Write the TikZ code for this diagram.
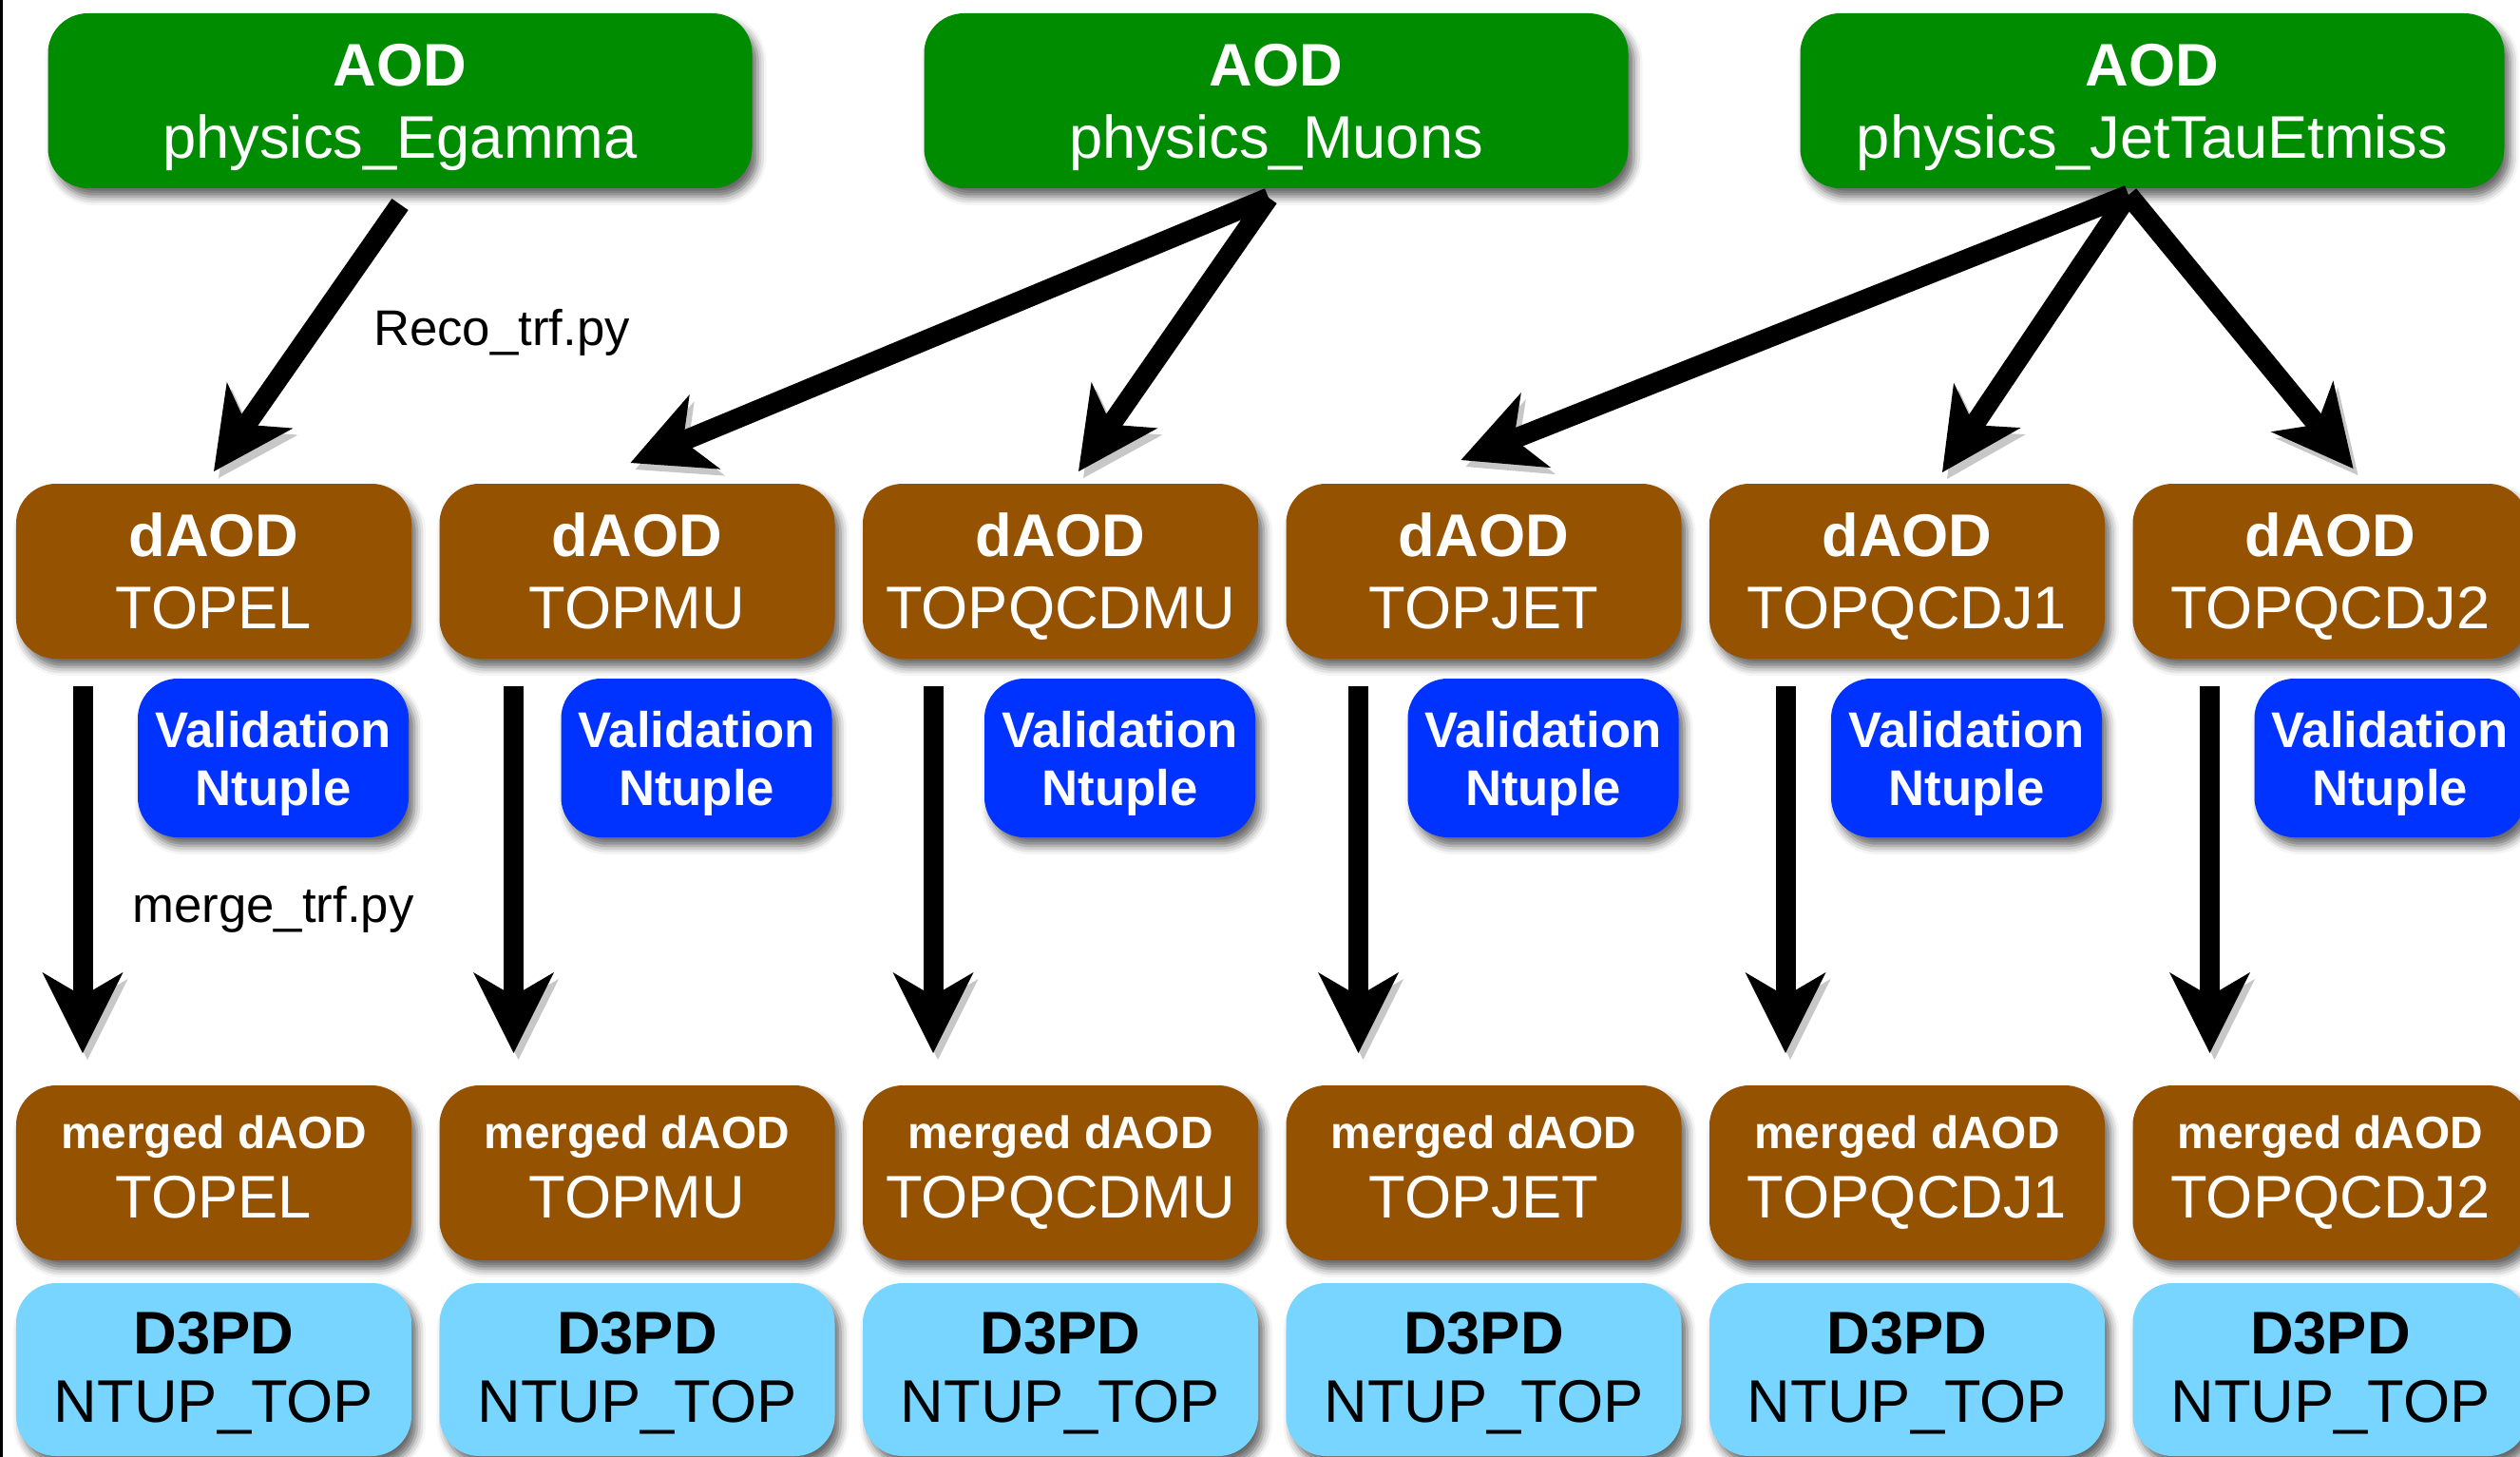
\documentclass[tikz,border=0pt]{standalone}
\usepackage{fontspec}
\setmainfont{Liberation Sans}
\usetikzlibrary{arrows.meta, positioning, shadows.blur}

\definecolor{aodgreen}{RGB}{0,140,0}
\definecolor{daodbrown}{RGB}{149,82,0}
\definecolor{valblue}{RGB}{0,51,255}
\definecolor{ntupblue}{RGB}{119,213,255}

\begin{document}
\begin{tikzpicture}[
node distance = 2.9mm and 2.95mm,
   boks/.style = {rectangle, rounded corners=4.2mm, align=center, inner sep=1mm, outer sep=0pt,
                  minimum height=18.4mm, text depth=0pt, font=\fontsize{18}{21.6}\selectfont,
                  blur shadow={shadow xshift=0.6mm, shadow yshift=-0.9mm,
                               shadow blur radius=0.9mm, shadow opacity=60}},
    aod/.style = {boks, fill=aodgreen, text=white, minimum width=74.1mm},
   daod/.style = {boks, fill=daodbrown, text=white, minimum width=41.6mm},
  mdaod/.style = {daod, text depth=3.6pt},
    val/.style = {boks, fill=valblue, text=white, minimum width=28.5mm,
                  minimum height=16.7mm, font=\fontsize{15}{17.3}\selectfont\bfseries},
   ntup/.style = {boks, fill=ntupblue, text=black, minimum width=41.6mm, minimum height=18.2mm,
                  text depth=1.5pt},
   trf/.style = {font=\fontsize{15}{18}\selectfont},
    pil/.style = {black, line width=2.1mm,
                  -{Stealth[length=8.5mm, width=8.5mm, inset=2.5mm, line width=0pt]},
                  preaction={draw=black!22, transform canvas={shift={(0.5mm,-0.7mm)}}}}
                    ]
\useasboundingbox (0,0) rectangle (26.52,-15.33);
\fill (0,0) rectangle (0.03,-15.33);

%nodes
\node[aod] (aodE) at (4.21,-1.06) {{\bfseries AOD}\\physics\_Egamma};
\node[aod] (aodM) [right=18.1mm of aodE] {{\bfseries AOD}\\physics\_Muons};
\node[aod] (aodJ) [right=18.1mm of aodM] {{\bfseries AOD}\\physics\_JetTauEtmiss};

\node[daod] (dEl) at (2.25,-6.01) {{\bfseries dAOD}\\TOPEL};
\node[daod] (dMu) [right=of dEl] {{\bfseries dAOD}\\TOPMU};
\node[daod] (dQm) [right=of dMu] {{\bfseries dAOD}\\TOPQCDMU};
\node[daod] (dJet) [right=of dQm] {{\bfseries dAOD}\\TOPJET};
\node[daod] (dJ1) [right=of dJet] {{\bfseries dAOD}\\TOPQCDJ1};
\node[daod] (dJ2) [right=of dJ1] {{\bfseries dAOD}\\TOPQCDJ2};

\node[val] (vEl) [below=2.1mm of dEl.south east, anchor=north east, xshift=-0.3mm] {Validation\\Ntuple};
\node[val] (vMu) [below=2.1mm of dMu.south east, anchor=north east, xshift=-0.3mm] {Validation\\Ntuple};
\node[val] (vQm) [below=2.1mm of dQm.south east, anchor=north east, xshift=-0.3mm] {Validation\\Ntuple};
\node[val] (vJet) [below=2.1mm of dJet.south east, anchor=north east, xshift=-0.3mm] {Validation\\Ntuple};
\node[val] (vJ1) [below=2.1mm of dJ1.south east, anchor=north east, xshift=-0.3mm] {Validation\\Ntuple};
\node[val] (vJ2) [below=2.1mm of dJ2.south east, anchor=north east, xshift=-0.3mm] {Validation\\Ntuple};

\node[mdaod] (mEl) [below=44.9mm of dEl] {{\fontsize{13.6}{16}\selectfont\bfseries merged dAOD}\\[-1pt]TOPEL};
\node[mdaod] (mMu) [below=44.9mm of dMu] {{\fontsize{13.6}{16}\selectfont\bfseries merged dAOD}\\[-1pt]TOPMU};
\node[mdaod] (mQm) [below=44.9mm of dQm] {{\fontsize{13.6}{16}\selectfont\bfseries merged dAOD}\\[-1pt]TOPQCDMU};
\node[mdaod] (mJet) [below=44.9mm of dJet] {{\fontsize{13.6}{16}\selectfont\bfseries merged dAOD}\\[-1pt]TOPJET};
\node[mdaod] (mJ1) [below=44.9mm of dJ1] {{\fontsize{13.6}{16}\selectfont\bfseries merged dAOD}\\[-1pt]TOPQCDJ1};
\node[mdaod] (mJ2) [below=44.9mm of dJ2] {{\fontsize{13.6}{16}\selectfont\bfseries merged dAOD}\\[-1pt]TOPQCDJ2};

\node[ntup] (nEl) [below=2.4mm of mEl] {{\bfseries D3PD}\\[-1pt]NTUP\_TOP};
\node[ntup] (nMu) [below=2.4mm of mMu] {{\bfseries D3PD}\\[-1pt]NTUP\_TOP};
\node[ntup] (nQm) [below=2.4mm of mQm] {{\bfseries D3PD}\\[-1pt]NTUP\_TOP};
\node[ntup] (nJet) [below=2.4mm of mJet] {{\bfseries D3PD}\\[-1pt]NTUP\_TOP};
\node[ntup] (nJ1) [below=2.4mm of mJ1] {{\bfseries D3PD}\\[-1pt]NTUP\_TOP};
\node[ntup] (nJ2) [below=2.4mm of mJ2] {{\bfseries D3PD}\\[-1pt]NTUP\_TOP};

\node[trf] (reco) at (5.28,-3.50) {Reco\_trf.py};
\node[trf] (merge) at (2.875,-9.57) {merge\_trf.py};

% edges
\draw[pil] ([yshift=-1.7mm]aodE.south) -- ([yshift=1.3mm]dEl.north);
\draw[pil] ([xshift=-0.8mm,yshift=-1mm]aodM.south) -- ([xshift=-0.7mm,yshift=2.2mm]dMu.north);
\draw[pil] ([xshift=-0.8mm,yshift=-1mm]aodM.south) -- ([xshift=1.9mm,yshift=1.3mm]dQm.north);
\draw[pil] ([xshift=-2.5mm,yshift=-0.7mm]aodJ.south) -- ([xshift=-2.4mm,yshift=2.5mm]dJet.north);
\draw[pil] ([xshift=-2.5mm,yshift=-0.7mm]aodJ.south) -- ([xshift=3.7mm,yshift=1.2mm]dJ1.north);
\draw[pil] ([xshift=-2.5mm,yshift=-0.7mm]aodJ.south) -- ([xshift=2.4mm,yshift=1.6mm]dJ2.north);

\draw[pil] ([xshift=-13.8mm,yshift=-2.9mm]dEl.south) -- ([xshift=-13.8mm,yshift=3.4mm]mEl.north);
\draw[pil] ([xshift=-13.0mm,yshift=-2.9mm]dMu.south) -- ([xshift=-13.0mm,yshift=3.4mm]mMu.north);
\draw[pil] ([xshift=-13.4mm,yshift=-2.9mm]dQm.south) -- ([xshift=-13.4mm,yshift=3.4mm]mQm.north);
\draw[pil] ([xshift=-13.2mm,yshift=-2.9mm]dJet.south) -- ([xshift=-13.2mm,yshift=3.4mm]mJet.north);
\draw[pil] ([xshift=-12.8mm,yshift=-2.9mm]dJ1.south) -- ([xshift=-12.8mm,yshift=3.4mm]mJ1.north);
\draw[pil] ([xshift=-12.7mm,yshift=-2.9mm]dJ2.south) -- ([xshift=-12.7mm,yshift=3.4mm]mJ2.north);
\end{tikzpicture}
\end{document}
